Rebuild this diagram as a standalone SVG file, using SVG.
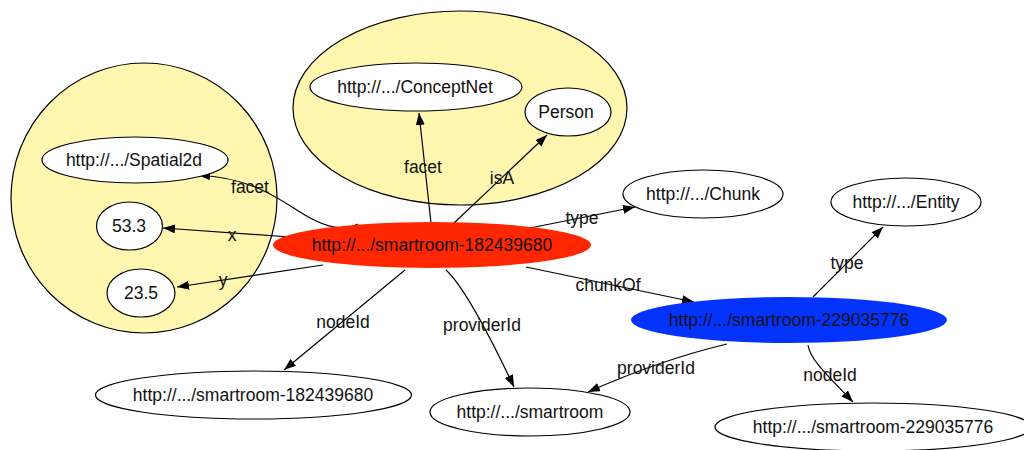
<svg xmlns="http://www.w3.org/2000/svg" width="1024" height="450" viewBox="0 0 1024 450">
<style>
text{font-family:"Liberation Sans",Arial,sans-serif;font-size:17.5px;fill:#111;text-anchor:middle}
.c{fill:#fff7b0;stroke:#000;stroke-width:1.2}
.n{fill:#fff;stroke:#000;stroke-width:1.2}
.e{fill:none;stroke:#000;stroke-width:1.2;marker-end:url(#a)}
</style>
<defs>
<marker id="a" markerUnits="userSpaceOnUse" markerWidth="13" markerHeight="10" refX="12" refY="4.5" orient="auto">
<path d="M0,0 L12,4.5 L0,9 z" fill="#000"/>
</marker>
</defs>
<rect width="1024" height="450" fill="#fff"/>
<g id="group-spatial"><ellipse class="c" cx="144" cy="198" rx="133" ry="135"/></g>
<g id="group-concept"><ellipse class="c" cx="460" cy="108" rx="167" ry="97"/></g>
<g id="connectors">
<path class="e" d="M358,224 C345,231 325,228 300,212 C275,196 250,178 198,175"/>
<text x="250" y="193">facet</text>
<path class="e" d="M290,237 L163,228"/>
<text x="232" y="241">x</text>
<path class="e" d="M323,265 L177,287"/>
<text x="223" y="286">y</text>
<path class="e" d="M431,223 L419,113"/>
<text x="423" y="173">facet</text>
<path class="e" d="M453,224 L547,135"/>
<text x="502" y="184">isA</text>
<path class="e" d="M530,228 L635,207"/>
<text x="582" y="224">type</text>
<path class="e" d="M526,267 L694,302"/>
<text x="608" y="291">chunkOf</text>
<path class="e" d="M813,297 L883,227"/>
<text x="847" y="269">type</text>
<path class="e" d="M405,270 L284,370"/>
<text x="343" y="328">nodeId</text>
<path class="e" d="M446,270 Q468,290 514,387"/>
<text x="482" y="331">providerId</text>
<path class="e" d="M727,344 Q660,360 588,392"/>
<text x="656" y="374">providerId</text>
<path class="e" d="M808,345 C810,360 830,378 853,402"/>
<text x="830" y="381">nodeId</text>
</g>
<g id="spatial2d"><ellipse class="n" cx="135" cy="160" rx="93" ry="23"/><text x="134" y="166">http://.../Spatial2d</text></g>
<g id="v533"><ellipse class="n" cx="129.5" cy="226" rx="33" ry="24"/><text x="129" y="232">53.3</text></g>
<g id="v235"><ellipse class="n" cx="141" cy="293" rx="34" ry="24"/><text x="141" y="299">23.5</text></g>
<g id="conceptnet"><ellipse class="n" cx="416" cy="87" rx="106" ry="24"/><text x="415" y="93">http://.../ConceptNet</text></g>
<g id="person"><ellipse class="n" cx="568" cy="112" rx="43" ry="24"/><text x="566" y="118">Person</text></g>
<g id="main"><ellipse cx="432" cy="245" rx="159" ry="23" fill="#ff2600"/><text x="432" y="251">http://.../smartroom-182439680</text></g>
<g id="chunk"><ellipse class="n" cx="703" cy="194" rx="80" ry="24"/><text x="703" y="200">http://.../Chunk</text></g>
<g id="entity"><ellipse class="n" cx="906" cy="202" rx="75" ry="24"/><text x="906" y="208">http://.../Entity</text></g>
<g id="chunk2"><ellipse cx="789" cy="320" rx="158" ry="23" fill="#0433ff"/><text x="789" y="326">http://.../smartroom-229035776</text></g>
<g id="node1"><ellipse class="n" cx="253.5" cy="395" rx="158" ry="24"/><text x="253" y="401">http://.../smartroom-182439680</text></g>
<g id="provider"><ellipse class="n" cx="530" cy="412" rx="100" ry="24"/><text x="530" y="418">http://.../smartroom</text></g>
<g id="node2"><ellipse class="n" cx="873" cy="427" rx="158" ry="24"/><text x="873" y="433">http://.../smartroom-229035776</text></g>
</svg>
